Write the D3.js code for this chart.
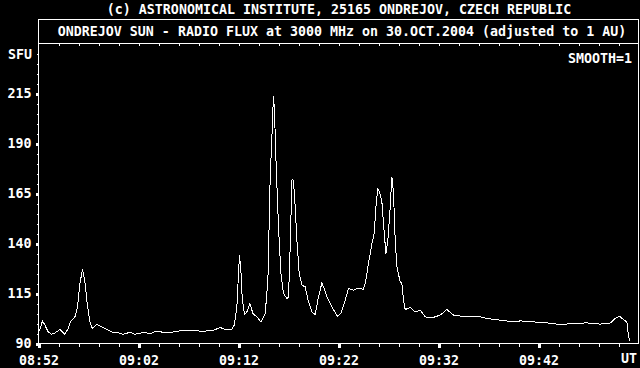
<!DOCTYPE html>
<html>
<head>
  <meta charset="UTF-8">
  <title>Ondrejov radio flux</title>
  <style>
    body { margin: 0; background: #000; }
    svg text { font-family: "DejaVu Sans Mono", monospace; font-size: 13.3px; font-weight: bold; fill: #fff; }
  </style>
</head>
<body>
  <script src="https://cdn.jsdelivr.net/npm/d3@7"></script>
  <script>
  // minutes after 08:52 UT
  var minutes = [
    0.07, 0.4, 0.64, 0.97, 1.3, 1.64, 2.14, 2.64, 2.97, 3.24, 3.64, 3.9, 4.14, 4.4, 4.64, 4.87,
    5.14, 5.37, 5.8, 6.3, 6.8, 7.3, 7.97, 8.47, 9.14, 9.64, 10.3, 11.3, 11.84, 12.5, 13.17, 13.84,
    14.5, 15.17, 15.84, 16.5, 17.5, 18.17, 18.67, 19.34, 19.57, 19.84, 20.0, 20.1, 20.24, 20.37,
    20.6, 20.84, 21.14, 21.44, 21.84, 22.24, 22.67, 22.94, 23.17, 23.34, 23.44, 23.5, 23.6, 23.77,
    24.0, 24.24, 24.5, 24.84, 25.0, 25.17, 25.34, 25.44, 25.5, 25.67, 25.84, 26.07, 26.34, 26.67,
    27.0, 27.34, 27.67, 28.0, 28.34, 28.57, 28.84, 29.34, 29.9, 30.24, 30.57, 31.0, 31.5, 31.84,
    32.5, 32.67, 33.0, 33.34, 33.57, 33.77, 33.94, 34.1, 34.34, 34.5, 34.74, 34.94, 35.17, 35.34,
    35.5, 35.67, 35.84, 36.17, 36.34, 36.5, 36.67, 37.17, 37.67, 38.17, 38.67, 39.34, 40.17, 40.84,
    41.5, 42.84, 44.17, 44.84, 46.17, 47.5, 48.17, 49.5, 50.84, 52.17, 53.5, 54.84, 56.17, 57.17,
    57.67, 58.1, 58.5, 58.84, 59.0, 59.17
  ];
  // solar flux, SFU
  var flux = [
    96.2, 101.2, 99.2, 95.8, 94.6, 95.3, 97, 94.6, 97.5, 101.3, 103.3, 108.3, 120, 127, 120.8, 110,
    100.8, 97.5, 99.6, 98.3, 97.1, 95.8, 95.3, 94.6, 95.6, 94.6, 95.3, 95.2, 96.3, 95.5, 95.5, 96.1,
    96.6, 96.3, 96.3, 96.1, 96.6, 98, 97.1, 97.1, 99.2, 108.3, 125, 134.2, 126.7, 112.5,
    104.5, 105.8, 110, 105, 103.3, 100.8, 105, 121.7, 173.3, 193.3, 206.7, 213.7, 205.8, 178.3,
    148.3, 125, 115, 112.5, 113.3, 138.3, 171.7, 172, 171, 158.3, 141.7, 125, 119.2, 118.3,
    110.8, 105.8, 104.5, 113.3, 120.3, 117.5, 113.3, 108.3, 103.6, 105, 110, 117.5, 116.7, 117.5,
    117.2, 120, 130, 140, 145, 160, 167.5, 165.8, 160.8, 150, 135, 141.7, 158.3, 173.3,
    165, 141.7, 128.3, 120.8, 120, 111.7, 107, 108, 105.8, 106.7, 103.3, 102.8, 104.2, 107,
    104.2, 103.3, 103.3, 102.5, 101.7, 100.8, 101.3, 100.8, 100.3, 99.5, 100, 100.3, 99.7, 100.2,
    102.5, 103.6, 102, 100.8, 93.3, 91.2
  ];
  var yTicks = [90, 115, 140, 165, 190, 215];
  var xTicks = [0, 10, 20, 30, 40, 50];
  var xTickLabels = ["08:52", "09:02", "09:12", "09:22", "09:32", "09:42"];

  var W = 640, H = 368;
  var padL = 38.5, padR = 638.5, plotTop = 43.5, plotBottom = 343.5, frameTop = 19.5;

  var svg = d3.select('body').append('svg').attr('width', W).attr('height', H);

  var x = d3.scaleLinear().domain([0, 60]).range([padL, padR]);
  var y = d3.scaleLinear().domain([90, 240]).range([plotBottom, plotTop]);

  // frame
  var frame = svg.append('g').attr('stroke', '#fff').attr('fill', 'none').attr('shape-rendering', 'crispEdges');
  frame.append('rect').attr('x', padL).attr('y', frameTop).attr('width', padR - padL).attr('height', plotBottom - frameTop);
  frame.append('line').attr('x1', padL).attr('x2', padR).attr('y1', plotTop).attr('y2', plotTop);

  // minor ticks
  var minorX = d3.range(2, 60, 2);
  var minorY = d3.range(95, 240, 5);

  var plain = function (g) {
    g.select('.domain').remove();
    g.selectAll('line').attr('stroke', '#fff').attr('shape-rendering', 'crispEdges');
  };

  svg.append('g').attr('transform', 'translate(0,' + plotBottom + ')')
    .call(d3.axisBottom(x).tickValues(minorX).tickSize(3).tickFormat(''))
    .call(plain);

  svg.append('g').attr('transform', 'translate(0,' + plotTop + ')')
    .call(d3.axisBottom(x).tickValues(minorX).tickSize(2).tickFormat(''))
    .call(plain);

  svg.append('g').attr('transform', 'translate(' + padL + ',0)')
    .call(d3.axisLeft(y).tickValues(minorY).tickSize(2).tickFormat(''))
    .call(plain);

  // major ticks + labels
  var major = function (g) {
    plain(g);
    g.selectAll('line').attr('stroke-width', 3);
    g.selectAll('text').attr('fill', '#fff').attr('font-size', null).attr('font-family', null);
  };

  svg.append('g').attr('transform', 'translate(0,' + plotBottom + ')')
    .call(d3.axisBottom(x).tickValues(xTicks).tickSize(4).tickPadding(8)
      .tickFormat(function (d, i) { return xTickLabels[i]; }))
    .call(major);

  svg.append('g').attr('transform', 'translate(' + padL + ',0)')
    .call(d3.axisLeft(y).tickValues(yTicks).tickSize(3).tickPadding(4))
    .call(major);

  // curve
  var line = d3.line()
    .x(function (d, i) { return x(minutes[i]); })
    .y(function (d) { return y(d); });

  svg.append('path')
    .datum(flux)
    .attr('d', line)
    .attr('fill', 'none')
    .attr('stroke', '#fff')
    .attr('stroke-width', 1)
    .attr('shape-rendering', 'crispEdges');

  // texts
  svg.append('text').attr('x', 339).attr('y', 14).attr('text-anchor', 'middle')
    .text('(c) ASTRONOMICAL INSTITUTE, 25165 ONDREJOV, CZECH REPUBLIC');
  svg.append('text').attr('x', 342).attr('y', 36).attr('text-anchor', 'middle')
    .text('ONDREJOV SUN - RADIO FLUX at 3000 MHz on 30.OCT.2004 (adjusted to 1 AU)');
  svg.append('text').attr('x', 32).attr('y', y(235) + 5).attr('text-anchor', 'end').text('SFU');
  svg.append('text').attr('x', 632).attr('y', 63).attr('text-anchor', 'end').text('SMOOTH=1');
  svg.append('text').attr('x', 637).attr('y', 363).attr('text-anchor', 'end').text('UT');
  </script>
</body>
</html>
